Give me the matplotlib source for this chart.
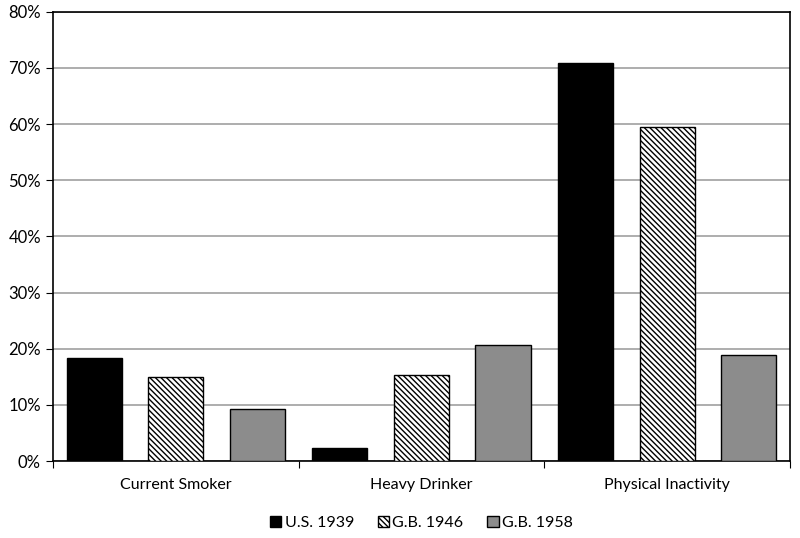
import matplotlib.pyplot as plt
import numpy as np
from matplotlib.ticker import FuncFormatter

plt.rcParams['font.family'] = ['Lato', 'DejaVu Sans']
plt.rcParams['hatch.linewidth'] = 1.0

# data
categories = ['Current Smoker', 'Heavy Drinker', 'Physical Inactivity']
series_names = ['U.S. 1939', 'G.B. 1946', 'G.B. 1958']
us_1939 = [18.4, 2.3, 70.9]
gb_1946 = [15.0, 15.3, 59.5]
gb_1958 = [9.3, 20.7, 18.9]

fig = plt.figure(figsize=(8, 5.38), dpi=100)
ax = fig.add_axes([0.066, 0.143, 0.9215, 0.835])

x = np.arange(len(categories))
w = 0.224
step = 0.332

ax.bar(x - step, us_1939, w, color='black', edgecolor='black', linewidth=1, label=series_names[0], zorder=3)
ax.bar(x, gb_1946, w, color='white', edgecolor='black', linewidth=1, hatch='\\' * 6, label=series_names[1], zorder=3)
ax.bar(x + step, gb_1958, w, color='#8c8c8c', edgecolor='black', linewidth=1, label=series_names[2], zorder=3)

ax.set_xlim(-0.5, len(categories) - 0.5)
ax.set_ylim(0, 80)
ax.set_yticks(np.arange(0, 81, 10))
ax.yaxis.set_major_formatter(FuncFormatter(lambda v, p: f'{v:.0f}%'))
ax.yaxis.grid(True, color='#a0a0a0', linewidth=1.2, zorder=0)
ax.set_axisbelow(True)

# category boundaries as ticks, labels in the middle
ax.set_xticks(np.arange(-0.5, len(categories), 1.0))
ax.set_xticklabels([])
ax.set_xticks(x, minor=True)
ax.set_xticklabels(categories, minor=True, fontsize=11.5)
ax.tick_params(axis='x', which='major', length=5, direction='out', color='black')
ax.tick_params(axis='x', which='minor', length=0, pad=12)
ax.tick_params(axis='y', length=5, labelsize=12, color='black')

for s in ax.spines.values():
    s.set_color('black')
    s.set_linewidth(1.2)

ax.legend(loc='upper center', bbox_to_anchor=(0.5, -0.09), ncol=3, frameon=False,
          fontsize=11.5, handlelength=0.7, handleheight=0.7, handletextpad=0.2, columnspacing=1.5)

plt.savefig('out.png', dpi=100)
plt.close()
